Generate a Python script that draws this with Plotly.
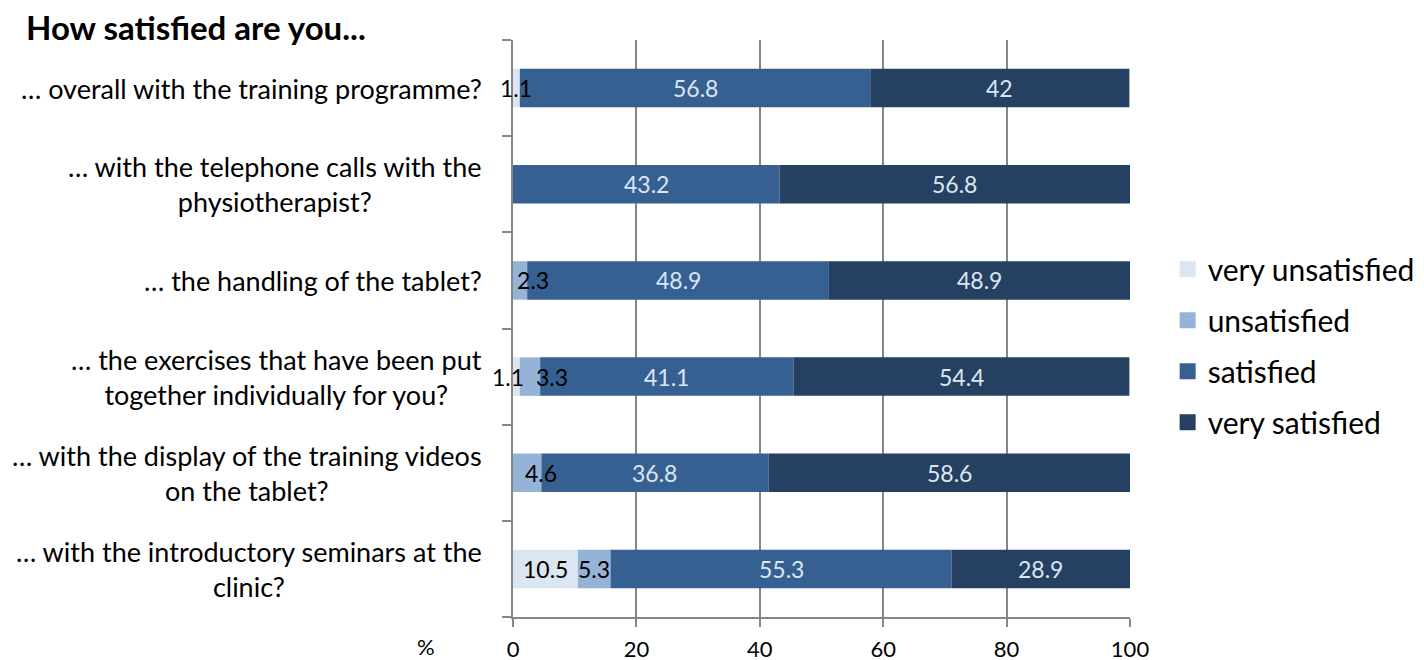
import plotly.graph_objects as go

categories = [
    "… overall with the training programme?",
    "… with the telephone calls with the<br>physiotherapist?",
    "… the handling of the tablet?",
    "… the exercises that have been put<br>together individually for you?",
    "… with the display of the training videos<br>on the tablet?",
    "… with the introductory seminars at the<br>clinic?",
]
series_names = ["very unsatisfied", "unsatisfied", "satisfied", "very satisfied"]
very_unsatisfied = [1.1, 0, 0, 1.1, 0, 10.5]
unsatisfied = [0, 0, 2.3, 3.3, 4.6, 5.3]
satisfied = [56.8, 43.2, 48.9, 41.1, 36.8, 55.3]
very_satisfied = [42, 56.8, 48.9, 54.4, 58.6, 28.9]
x_ticks = [0, 20, 40, 60, 80, 100]

# styling
colors = ["#dce6f2", "#95b3d7", "#376092", "#254061"]
text_colors = ["#000000", "#000000", "#dce6f2", "#dce6f2"]
# pixel nudges of a few small data labels (row, series) -> xshift, as in the reference
label_nudge = {(3, 0): -8, (3, 1): 22, (2, 1): 13, (4, 1): 14}
FONT = "Lato"

values = [very_unsatisfied, unsatisfied, satisfied, very_satisfied]
ids = list(range(len(categories)))

fig = go.Figure()
base = [0.0] * len(categories)
for s, (name, vals, col, tcol) in enumerate(zip(series_names, values, colors, text_colors)):
    fig.add_trace(go.Bar(
        y=ids, x=vals, base=base[:], orientation="h", name=name,
        marker=dict(color=col, line=dict(width=0)), legendgroup=name,
        showlegend=False, hoverinfo="x+name",
    ))
    # legend swatch
    fig.add_trace(go.Scatter(
        x=[None], y=[None], mode="markers", name=name, legendgroup=name,
        marker=dict(symbol="square", size=16, color=col), showlegend=True,
    ))
    for i, (b, v) in enumerate(zip(base, vals)):
        if v > 0:
            fig.add_annotation(
                xref="x", yref="y", x=b + v / 2, y=i, text=f"{v:g}",
                showarrow=False, xanchor="center", yanchor="middle",
                xshift=label_nudge.get((i, s), 0),
                font=dict(family=FONT, size=23, color=tcol),
            )
    base = [b + v for b, v in zip(base, vals)]

for i, c in zip(ids, categories):
    fig.add_annotation(
        xref="paper", yref="y", x=-29 / 617, y=i, text=c, showarrow=False,
        xanchor="right", yanchor="middle", align="center",
        font=dict(family=FONT, size=27, color="#000000"),
    )

fig.add_annotation(
    xref="paper", yref="paper", x=(425 - 512) / 617, y=-29 / 577, text="%",
    showarrow=False, xanchor="center", yanchor="middle",
    font=dict(family=FONT, size=22, color="#000000"),
)

fig.update_layout(
    width=1424, height=660,
    margin=dict(l=505, r=302, t=32, b=51, autoexpand=False),
    paper_bgcolor="white", plot_bgcolor="white",
    barmode="overlay", bargap=0.6,
    title=dict(text="<b>How satisfied are you...</b>", xref="container", yref="container",
               x=18 / 1424, xanchor="left", y=1 - 20 / 660, yanchor="middle",
               pad=dict(l=0, r=0, t=0, b=0), automargin=False,
               font=dict(family=FONT, size=33, color="#000000")),
    legend=dict(x=1.061, y=0.47, xanchor="left", yanchor="middle",
                font=dict(family=FONT, size=30, color="#000000"),
                traceorder="grouped", tracegroupgap=9, itemwidth=30),
    font=dict(family=FONT),
)
fig.update_xaxes(
    range=[0, 100], tickvals=x_ticks, ticktext=[str(t) for t in x_ticks],
    showgrid=True, gridcolor="#868686", gridwidth=2,
    showline=True, linecolor="#868686", linewidth=2,
    ticks="outside", ticklen=8, tickcolor="#868686", tickwidth=2,
    ticklabelstandoff=4, automargin=False,
    tickfont=dict(family=FONT, size=22, color="#000000"),
    zeroline=False, fixedrange=True,
)
fig.update_yaxes(
    range=[len(categories) - 0.5, -0.5], tickmode="array",
    tickvals=[i - 0.5 for i in ids] + [len(ids) - 0.5], ticktext=[""] * (len(ids) + 1),
    showgrid=False, showline=True, linecolor="#868686", linewidth=2,
    ticks="outside", ticklen=9, tickcolor="#868686", tickwidth=2,
    automargin=False, zeroline=False, fixedrange=True,
)
fig.write_html("out.html")
